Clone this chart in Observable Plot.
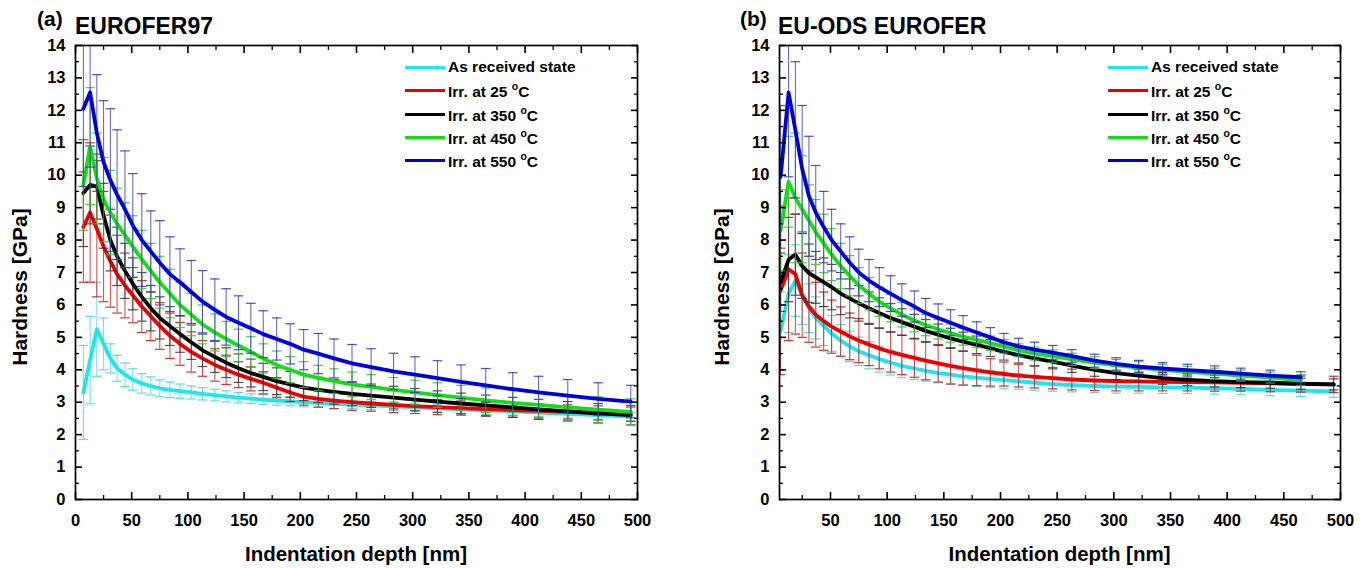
<!DOCTYPE html>
<html><head><meta charset="utf-8">
<script src="https://cdn.jsdelivr.net/npm/d3@7"></script>
<script src="https://cdn.jsdelivr.net/npm/@observablehq/plot@0.6"></script>
<style>
body{margin:0;background:#fff;font-family:"Liberation Sans",Arial,sans-serif;}
#wrap{position:relative;width:1368px;height:568px;overflow:hidden;}
.panel{position:absolute;top:0;width:684px;height:568px;}
.t{position:absolute;font-weight:bold;color:#000;white-space:nowrap;line-height:1;}
.ytitle{position:absolute;font-weight:bold;font-size:21px;white-space:nowrap;transform:translate(-50%,-50%) rotate(-90deg);line-height:1;}
.xtitle{position:absolute;font-weight:bold;font-size:20.5px;white-space:nowrap;transform:translateX(-50%);line-height:1;}
.leg{position:absolute;font-weight:bold;font-size:15.5px;line-height:1;}
.leg .row{position:absolute;left:0;height:20px;white-space:nowrap;}
.leg .sw{position:absolute;left:0;top:8px;width:40px;height:3px;}
.leg .lb{position:absolute;left:43px;top:1px;}
.leg sup{font-size:10.5px;position:relative;top:-1px;}
</style></head><body>
<div id="wrap"></div>
<script>
// ---------- data ----------
const seriesNames = ["As received state", "Irr. at 25", "Irr. at 350", "Irr. at 450", "Irr. at 550"];
const lineColors = ["#1fe6ec", "#ee0000", "#000000", "#14dd14", "#0000dd"];
const barColors  = ["#3fd6dc", "#c01515", "#333333", "#30c030", "#3333b5"];
const yTicks = [0,1,2,3,4,5,6,7,8,9,10,11,12,13,14];
const yMinor = [0.5,1.5,2.5,3.5,4.5,5.5,6.5,7.5,8.5,9.5,10.5,11.5,12.5,13.5];
const xTicksA = [0,50,100,150,200,250,300,350,400,450,500];
const xTicksB = [50,100,150,200,250,300,350,400,450,500];
const xMinor = [25,75,125,175,225,275,325,375,425,475];

// (a) EUROFER97
const depthA = [7,13,19,25,31,37,44,51,59,67,75,84,93,103,113,124,134,145,156,167,179,191,203,216,230,246,263,283,302,322,343,365,389,412,438,465,494];
const asRecA = [3.3,4.3,5.25,4.8,4.35,4.05,3.85,3.7,3.58,3.5,3.43,3.38,3.34,3.3,3.26,3.22,3.18,3.14,3.11,3.08,3.05,3.03,3.0,2.98,2.95,2.93,2.9,2.87,2.84,2.81,2.78,2.75,2.72,2.68,2.64,2.6,2.56];
const irr25A = [8.4,8.85,8.35,7.8,7.35,6.95,6.6,6.3,5.95,5.65,5.35,5.05,4.8,4.55,4.35,4.15,4.0,3.85,3.72,3.6,3.45,3.3,3.17,3.1,3.05,3.0,2.96,2.92,2.88,2.85,2.82,2.79,2.76,2.73,2.7,2.67,2.63];
const irr350A = [9.45,9.7,9.65,8.75,8.0,7.5,7.05,6.65,6.25,5.9,5.6,5.35,5.1,4.85,4.6,4.4,4.22,4.05,3.9,3.78,3.65,3.55,3.45,3.38,3.32,3.26,3.2,3.14,3.08,3.02,2.96,2.9,2.84,2.78,2.72,2.66,2.6];
const irr450A = [9.7,10.9,9.9,9.25,8.85,8.5,8.15,7.8,7.4,7.05,6.7,6.35,6.0,5.7,5.4,5.15,4.95,4.75,4.55,4.35,4.15,4.0,3.85,3.75,3.65,3.55,3.47,3.38,3.3,3.22,3.14,3.06,2.98,2.92,2.84,2.77,2.7];
const irr550A = [12.05,12.55,11.3,10.4,9.85,9.4,8.95,8.45,8.0,7.65,7.3,6.95,6.7,6.4,6.1,5.85,5.63,5.45,5.28,5.1,4.95,4.8,4.62,4.5,4.35,4.2,4.08,3.95,3.85,3.74,3.63,3.52,3.4,3.3,3.2,3.1,3.02];
const errAsRecA = [1.45,1.35,1.45,0.8,0.45,0.4,0.36,0.33,0.3,0.28,0.26,0.24,0.22,0.2,0.19,0.18,0.17,0.16,0.15,0.15,0.14,0.14,0.14,0.14,0.14,0.13,0.13,0.13,0.13,0.13,0.13,0.13,0.13,0.13,0.13,0.13,0.13];
const err25A = [1.7,2.15,2.1,1.7,1.42,1.2,1.0,0.85,0.8,0.75,0.72,0.7,0.66,0.62,0.55,0.5,0.45,0.4,0.37,0.34,0.31,0.28,0.26,0.25,0.25,0.25,0.24,0.24,0.23,0.23,0.22,0.22,0.22,0.22,0.22,0.22,0.22];
const err350A = [1.65,1.2,1.0,1.0,0.95,0.9,0.85,0.8,0.75,0.7,0.65,0.6,0.56,0.53,0.5,0.48,0.46,0.44,0.43,0.42,0.41,0.4,0.4,0.39,0.38,0.37,0.36,0.35,0.34,0.33,0.32,0.32,0.31,0.31,0.3,0.3,0.3];
const err450A = [1.4,1.8,1.4,1.3,1.3,1.1,1.0,0.95,0.9,0.85,0.8,0.75,0.7,0.65,0.6,0.57,0.54,0.5,0.47,0.45,0.43,0.41,0.4,0.39,0.38,0.38,0.38,0.38,0.38,0.38,0.38,0.38,0.38,0.38,0.39,0.4,0.4];
const err550A = [2.4,2.3,1.8,1.9,2.2,2.0,1.8,1.6,1.43,1.25,1.3,1.15,1.03,0.97,0.96,0.95,0.87,0.83,0.77,0.72,0.65,0.62,0.62,0.62,0.6,0.58,0.57,0.56,0.55,0.54,0.52,0.52,0.51,0.5,0.5,0.5,0.5];

// (b) EU-ODS EUROFER
const depthB = [6,13,19,25,31,37,44,51,59,67,75,84,93,103,113,124,134,145,156,167,179,191,203,216,230,246,263,283,302,322,343,365,389,412,438,465,494];
const asRecB = [5.2,6.35,6.75,6.3,5.9,5.6,5.35,5.12,4.9,4.72,4.57,4.45,4.33,4.22,4.12,4.04,3.97,3.9,3.85,3.8,3.76,3.72,3.68,3.64,3.6,3.56,3.53,3.5,3.48,3.47,3.46,3.45,3.43,3.41,3.38,3.36,3.33];
const irr25B = [6.45,7.1,6.95,6.3,5.95,5.7,5.5,5.33,5.18,5.03,4.9,4.78,4.66,4.55,4.46,4.37,4.28,4.2,4.12,4.05,3.98,3.92,3.87,3.82,3.78,3.74,3.7,3.67,3.65,3.64,3.63,3.62,3.61,3.6,3.58,3.56,3.55];
const irr350B = [6.7,7.4,7.55,7.2,6.98,6.85,6.7,6.55,6.35,6.2,6.05,5.9,5.75,5.6,5.47,5.33,5.2,5.08,4.97,4.87,4.77,4.67,4.55,4.45,4.35,4.25,4.13,4.0,3.9,3.82,3.74,3.69,3.65,3.62,3.6,3.57,3.55];
const irr450B = [8.3,9.8,9.3,8.95,8.6,8.25,7.9,7.55,7.2,6.9,6.6,6.35,6.1,5.9,5.7,5.52,5.38,5.25,5.13,5.02,4.92,4.82,4.72,4.6,4.5,4.42,4.32,4.22,4.14,4.07,4.0,3.94,3.88,3.82,3.76,3.68,null];
const irr550B = [9.95,12.55,11.4,10.2,9.35,8.85,8.4,8.0,7.65,7.3,7.0,6.75,6.55,6.35,6.15,5.95,5.75,5.6,5.45,5.3,5.15,5.0,4.85,4.72,4.62,4.53,4.42,4.28,4.18,4.1,4.04,3.99,3.94,3.88,3.82,3.77,null];
const errAsRecB = [1.2,1.2,1.1,0.9,0.75,0.65,0.6,0.55,0.5,0.47,0.44,0.42,0.4,0.38,0.36,0.34,0.32,0.3,0.29,0.28,0.27,0.26,0.25,0.24,0.23,0.22,0.21,0.2,0.2,0.19,0.19,0.18,0.18,0.18,0.18,0.18,0.18];
const err25B = [2.6,2.2,1.85,1.3,1.1,1.0,0.9,0.82,0.76,0.72,0.68,0.65,0.63,0.62,0.61,0.6,0.59,0.58,0.56,0.52,0.47,0.42,0.37,0.35,0.34,0.33,0.32,0.31,0.3,0.29,0.28,0.27,0.27,0.26,0.26,0.25,0.25];
const err350B = [0.9,1.3,1.25,1.0,0.9,0.8,0.75,0.7,0.65,0.6,0.55,0.5,0.47,0.44,0.41,0.38,0.35,0.33,0.31,0.29,0.27,0.26,0.25,0.24,0.23,0.22,0.21,0.2,0.2,0.19,0.19,0.18,0.18,0.17,0.17,0.17,0.17];
const err450B = [1.25,1.4,2.0,1.65,1.1,1.0,0.9,0.8,0.7,0.62,0.55,0.5,0.45,0.42,0.38,0.35,0.33,0.3,0.28,0.26,0.24,0.22,0.21,0.2,0.2,0.19,0.19,0.18,0.18,0.18,0.17,0.17,0.17,0.17,0.17,0.17,null];
const err550B = [2.2,2.6,2.1,1.95,1.85,1.45,1.1,0.95,0.85,0.8,0.72,0.65,0.6,0.55,0.5,0.48,0.45,0.43,0.4,0.37,0.33,0.3,0.27,0.25,0.23,0.22,0.2,0.2,0.19,0.19,0.18,0.18,0.18,0.17,0.17,0.17,null];

// ---------- drawing ----------
const cap = {draw(ctx, size){ const r = Math.sqrt(size/Math.PI); ctx.moveTo(-r,0); ctx.lineTo(r,0); }};
const FONT = '"Liberation Sans", Arial, sans-serif';

function makePanel(cfg){
  const marks = [];
  cfg.vals.forEach((vals, i) => {
    const rows = [];
    cfg.depth.forEach((d, j) => { if (vals[j] != null) rows.push({d, v: vals[j], e: cfg.errs[i][j]}); });
    marks.push(
      Plot.ruleX(rows, {x: "d", y1: r => r.v - r.e, y2: r => r.v + r.e, stroke: barColors[i], strokeWidth: 1, strokeOpacity: 0.8, clip: true}),
      Plot.dot(rows, {x: "d", y: r => r.v + r.e, symbol: cap, r: 4.8, stroke: barColors[i], strokeWidth: 1.2, fill: "none", strokeOpacity: 0.85, clip: true}),
      Plot.dot(rows, {x: "d", y: r => r.v - r.e, symbol: cap, r: 4.8, stroke: barColors[i], strokeWidth: 1.2, fill: "none", strokeOpacity: 0.85, clip: true}),
      Plot.line(rows, {x: "d", y: "v", stroke: lineColors[i], strokeWidth: 3.8, strokeLinejoin: "round", clip: true})
    );
  });
  marks.push(
    Plot.frame({stroke: "#000", strokeWidth: 1.7}),
    Plot.axisY({ticks: yTicks, tickSize: -7, strokeWidth: 1.6, fill: "none", label: null}),
    Plot.axisY({ticks: yMinor, tickSize: -4, strokeWidth: 1.3, fill: "none", label: null}),
    Plot.axisY({anchor: "right", ticks: yTicks, tickSize: -7, strokeWidth: 1.6, fill: "none", label: null}),
    Plot.axisY({anchor: "right", ticks: yMinor, tickSize: -4, strokeWidth: 1.3, fill: "none", label: null}),
    Plot.axisY({ticks: yTicks, tickSize: 0, tickPadding: 10, stroke: "none", label: null, tickFormat: d => String(d)}),
    Plot.axisX({ticks: cfg.xTicks, tickSize: -7, strokeWidth: 1.6, fill: "none", label: null}),
    Plot.axisX({ticks: xMinor, tickSize: -4, strokeWidth: 1.3, fill: "none", label: null}),
    Plot.axisX({anchor: "top", ticks: cfg.xTicks, tickSize: -7, strokeWidth: 1.6, fill: "none", label: null}),
    Plot.axisX({anchor: "top", ticks: xMinor, tickSize: -4, strokeWidth: 1.3, fill: "none", label: null}),
    Plot.axisX({ticks: cfg.xTicks, tickSize: 0, tickPadding: 15, stroke: "none", label: null, tickFormat: d => String(d)})
  );
  return Plot.plot({
    width: 684, height: 568,
    marginLeft: cfg.ml, marginRight: cfg.mr, marginTop: 45, marginBottom: 69,
    x: {domain: cfg.xDomain},
    y: {domain: [0, 14]},
    style: {fontFamily: FONT, fontSize: "16.5px", fontWeight: "bold", color: "#000", background: "#fff", overflow: "visible"},
    marks
  });
}

const wrap = document.getElementById("wrap");
const panels = [
  {left: 0, ml: 75, mr: 47, xDomain: [0, 500], xTicks: xTicksA, depth: depthA,
   vals: [asRecA, irr25A, irr350A, irr450A, irr550A], errs: [errAsRecA, err25A, err350A, err450A, err550A],
   tag: "(a)", title: "EUROFER97", tagX: 37, titleX: 75, ytX: 19, legX: 405},
  {left: 684, ml: 95, mr: 28, xDomain: [5, 500], xTicks: xTicksB, depth: depthB,
   vals: [asRecB, irr25B, irr350B, irr450B, irr550B], errs: [errAsRecB, err25B, err350B, err450B, err550B],
   tag: "(b)", title: "EU-ODS EUROFER", tagX: 740, titleX: 778, ytX: 721, legX: 1108}
];
panels.forEach(p => {
  const div = document.createElement("div");
  div.className = "panel"; div.style.left = p.left + "px";
  div.appendChild(makePanel(p));
  wrap.appendChild(div);
  const tag = document.createElement("div");
  tag.className = "t"; tag.textContent = p.tag;
  Object.assign(tag.style, {left: p.tagX + "px", top: "8px", fontSize: "21px"});
  wrap.appendChild(tag);
  const title = document.createElement("div");
  title.className = "t"; title.textContent = p.title;
  Object.assign(title.style, {left: p.titleX + "px", top: "15px", fontSize: "23px"});
  wrap.appendChild(title);
  const yt = document.createElement("div");
  yt.className = "ytitle"; yt.textContent = "Hardness [GPa]";
  Object.assign(yt.style, {left: p.ytX + "px", top: "287px"});
  wrap.appendChild(yt);
  const frameL = p.left + p.ml, frameR = p.left + 684 - p.mr;
  const xt = document.createElement("div");
  xt.className = "xtitle"; xt.textContent = "Indentation depth [nm]";
  Object.assign(xt.style, {left: ((frameL + frameR) / 2) + "px", top: "544px"});
  wrap.appendChild(xt);
  const leg = document.createElement("div");
  leg.className = "leg";
  Object.assign(leg.style, {left: p.legX + "px", top: "58px"});
  seriesNames.forEach((n, i) => {
    const row = document.createElement("div");
    row.className = "row"; row.style.top = (i * 23.3) + "px";
    const sw = document.createElement("div"); sw.className = "sw"; sw.style.background = lineColors[i];
    const lb = document.createElement("div"); lb.className = "lb";
    if (i === 0) lb.textContent = n;
    else lb.innerHTML = n + " <sup>o</sup>C";
    row.appendChild(sw); row.appendChild(lb); leg.appendChild(row);
  });
  wrap.appendChild(leg);
});
</script>
</body></html>
